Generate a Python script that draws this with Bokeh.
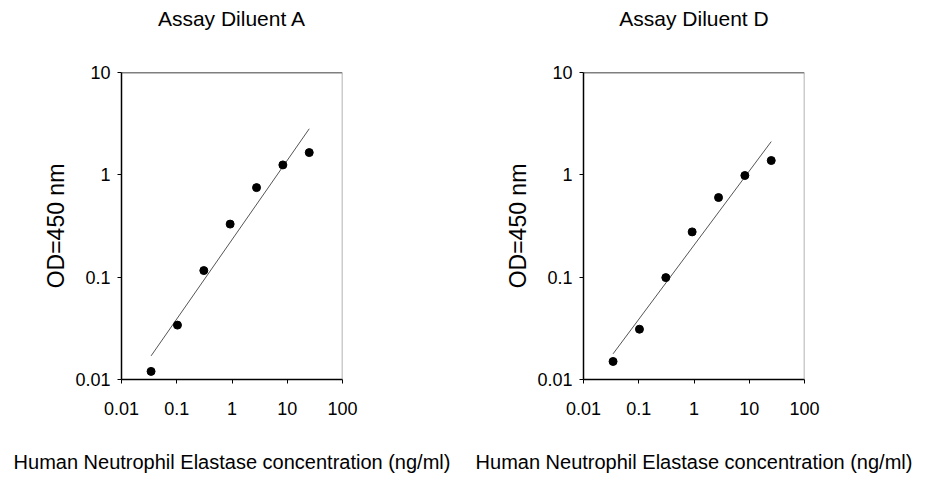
import numpy as np
from bokeh.plotting import figure
from bokeh.layouts import row
from bokeh.models import FixedTicker, CustomJSTickFormatter, Span, Title
from bokeh.embed import file_html
from bokeh.resources import INLINE

# ---- data ----
concentration = [0.0343, 0.103, 0.309, 0.926, 2.78, 8.33, 25.0]
od_diluent_a = [0.012, 0.034, 0.116, 0.33, 0.75, 1.25, 1.65]
od_diluent_d = [0.015, 0.031, 0.099, 0.277, 0.60, 0.985, 1.38]
titles = ["Assay Diluent A", "Assay Diluent D"]
x_ticks = [0.01, 0.1, 1, 10, 100]
y_ticks = [0.01, 0.1, 1, 10]
x_label = "Human Neutrophil Elastase concentration (ng/ml)"
y_label = "OD=450 nm"

FONT = "Liberation Sans"


def panel(title, yvals, width, left, right):
    p = figure(width=width, height=478, x_axis_type="log", y_axis_type="log",
               x_range=(0.01, 100), y_range=(0.01, 10),
               output_backend="svg", toolbar_location=None,
               min_border_left=left, min_border_right=right,
               min_border_top=71, min_border_bottom=99,
               title=title)
    p.title.align = "center"
    p.title.text_font = FONT
    p.title.text_font_size = "21px"
    p.title.text_font_style = "normal"
    p.title.text_color = "black"
    p.title.standoff = 8
    # spacer between frame and title (keeps the title high above the frame)
    p.add_layout(Title(text=" ", text_font_size="10px", standoff=26), "above")
    p.grid.visible = False
    p.outline_line_color = None
    p.background_fill_color = "white"
    p.border_fill_color = "white"

    for ax in (p.xaxis[0], p.yaxis[0]):
        ax.axis_line_color = "black"
        ax.axis_line_width = 1.5
        ax.major_tick_line_color = "black"
        ax.major_tick_out = 4
        ax.major_tick_in = 0
        ax.minor_tick_line_color = None
        ax.major_label_text_font = FONT
        ax.major_label_text_font_size = "18px"
        ax.major_label_text_color = "black"
        ax.axis_label_text_font = FONT
        ax.axis_label_text_font_style = "normal"
        ax.axis_label_text_color = "black"
        ax.formatter = CustomJSTickFormatter(code="return String(tick);")

    p.xaxis.ticker = FixedTicker(ticks=x_ticks)
    p.yaxis.ticker = FixedTicker(ticks=y_ticks)
    p.xaxis.axis_label = x_label
    p.xaxis.axis_label_text_font_size = "20px"
    p.xaxis.axis_label_standoff = 33
    p.xaxis.major_label_standoff = 18
    p.yaxis.axis_label = y_label
    p.yaxis.axis_label_text_font_size = "23px"
    p.yaxis.axis_label_standoff = 3
    p.yaxis.major_label_standoff = 7

    p.add_layout(Span(location=10, dimension="width", line_color="black", line_width=1.5))
    p.add_layout(Span(location=100, dimension="height", line_color="#999999", line_width=1.5))

    # log-log linear regression line
    lx = np.log10(concentration)
    ly = np.log10(yvals)
    slope, intercept = np.polyfit(lx, ly, 1)
    fx = np.array([min(concentration), max(concentration)])
    fy = 10 ** (intercept + slope * np.log10(fx))
    p.line(fx, fy, line_color="#555555", line_width=1)
    p.scatter(concentration, yvals, size=8, fill_color="black", line_color="black")
    return p


p1 = panel(titles[0], od_diluent_a, 467, 121, 125)
p2 = panel(titles[1], od_diluent_d, 451, 116, 114)
layout = row(p1, p2)

open("out.html", "w").write(file_html(layout, INLINE))
